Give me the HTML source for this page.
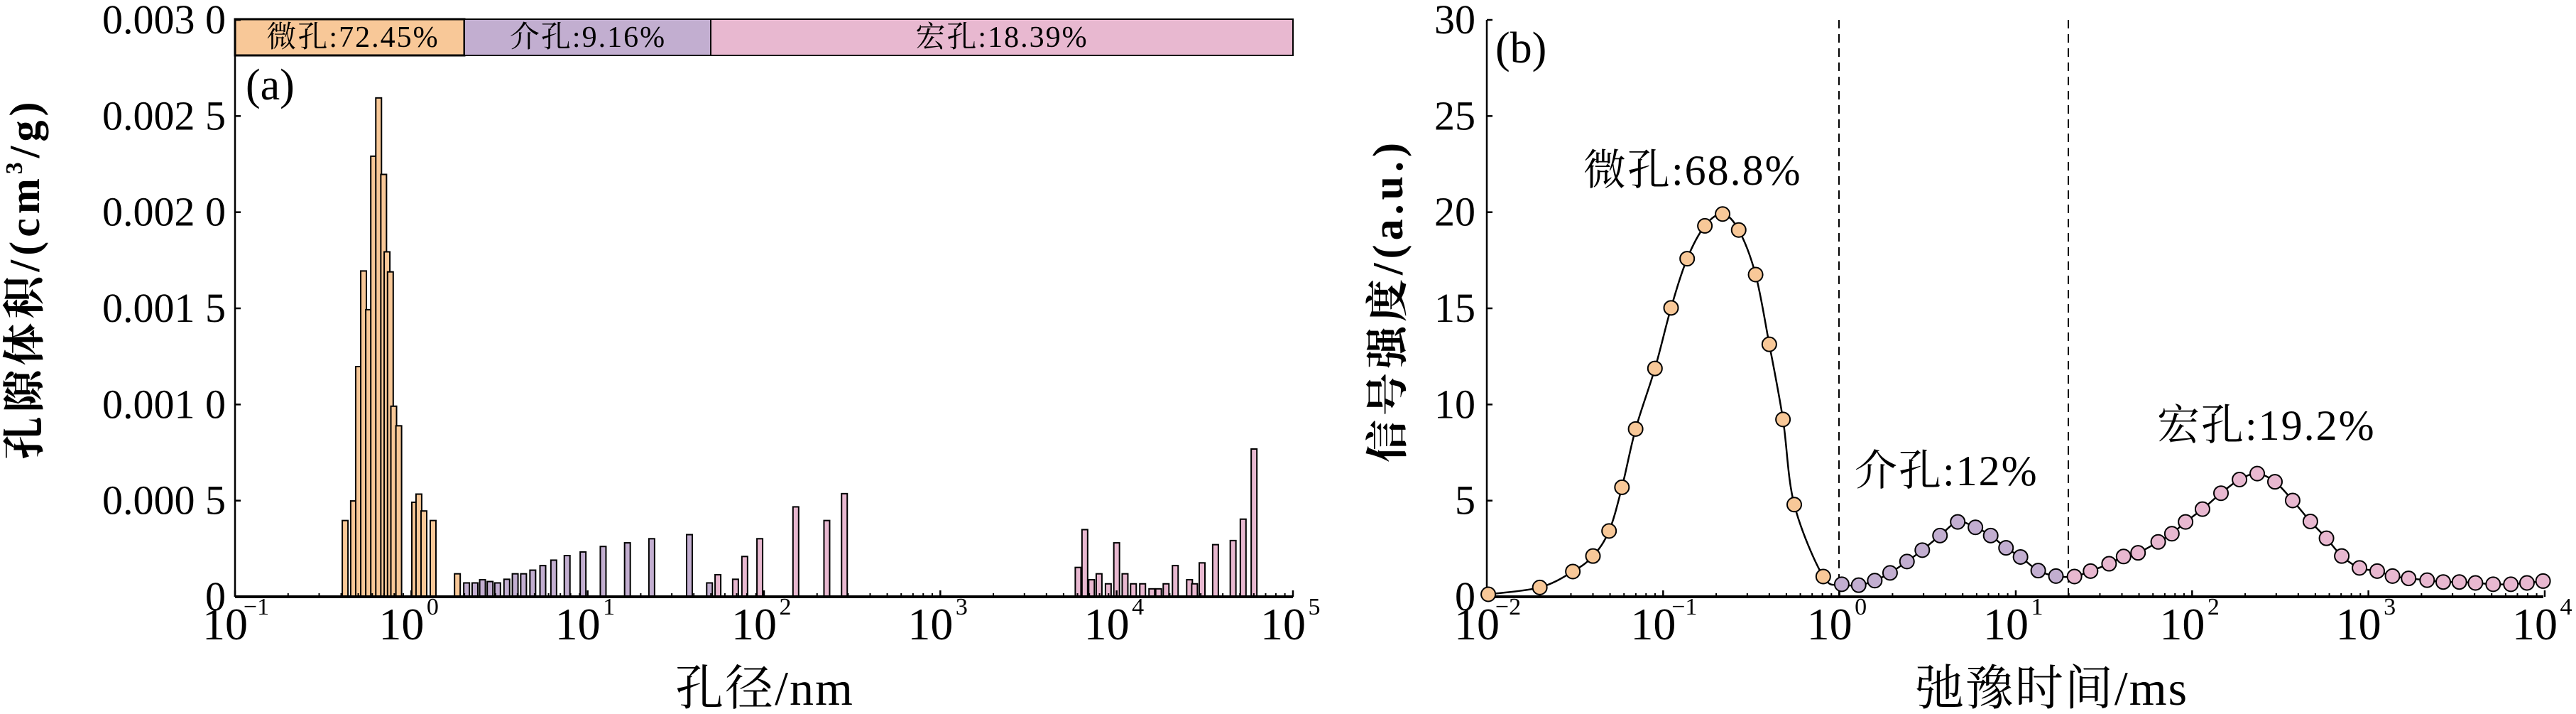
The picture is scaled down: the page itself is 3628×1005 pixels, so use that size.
<!DOCTYPE html>
<html><head><meta charset="utf-8">
<style>
html,body{margin:0;padding:0;background:#fff;}
svg{display:block;}
text{font-family:"Liberation Serif","Noto Serif CJK SC","Noto Sans CJK SC",serif;fill:#000;}
.cjk{font-family:"Liberation Serif","Noto Serif CJK SC",serif;}
</style></head>
<body>
<svg id="s" width="3628" height="1005" viewBox="0 0 3628 1005" xmlns="http://www.w3.org/2000/svg">
<rect x="331" y="27" width="323" height="51" fill="#F8C898" stroke="#000" stroke-width="3"/>
<rect x="654" y="27" width="347" height="51" fill="#C2AED0" stroke="#000" stroke-width="2"/>
<rect x="1001" y="27" width="820" height="51" fill="#E8B8D0" stroke="#000" stroke-width="2"/>
<text x="497" y="66" font-size="42" text-anchor="middle" class="cjk" letter-spacing="2">微孔:72.45%</text>
<text x="828" y="66" font-size="42" text-anchor="middle" class="cjk" letter-spacing="2">介孔:9.16%</text>
<text x="1411" y="66" font-size="42" text-anchor="middle" class="cjk" letter-spacing="2">宏孔:18.39%</text>
<text x="346" y="140" font-size="62">(a)</text>
<g id="ga"></g>
<g id="gb"></g>
<text transform="translate(55,392) rotate(-90)" font-size="60" font-weight="bold" text-anchor="middle" letter-spacing="6" class="cjk">孔隙体积/(cm<tspan font-size="34" dy="-24">3</tspan><tspan dy="24">/g)</tspan></text>
<text x="1077" y="992" font-size="68" text-anchor="middle" class="cjk" letter-spacing="2">孔径/nm</text>
<text transform="translate(1975,423) rotate(-90)" font-size="60" font-weight="bold" text-anchor="middle" letter-spacing="6" class="cjk">信号强度/(a.u.)</text>
<text x="2890" y="992" font-size="68" text-anchor="middle" class="cjk" letter-spacing="2">弛豫时间/ms</text>
<text x="2106" y="88" font-size="62">(b)</text>
<text x="2230" y="260" font-size="60" class="cjk" letter-spacing="2">微孔:68.8%</text>
<text x="2612" y="683" font-size="60" class="cjk" letter-spacing="2">介孔:12%</text>
<text x="3038" y="619" font-size="60" class="cjk" letter-spacing="2">宏孔:19.2%</text>
</svg>
<script>
var NS="http://www.w3.org/2000/svg";
function el(p,t,a,txt){var e=document.createElementNS(NS,t);for(var k in a)e.setAttribute(k,a[k]);if(txt!==undefined)e.textContent=txt;p.appendChild(e);return e;}
var ga=document.getElementById('ga');
var aL=331,aR=1821,aT=28,aZ=840,dec=248.33;
var bars=[
[412,1143,'o'],[422,1100,'o'],[428,805,'o'],[434,595,'o'],[440,680,'o'],[446,343,'o'],[452,215,'o'],[458,383,'o'],[462,553,'o'],[466,597,'o'],[470,892,'o'],[476,935,'o'],[495,1103,'o'],[500,1085,'o'],[506,1122,'o'],[517,1143,'o'],[546,1260,'o'],
[557,1280,'p'],[567,1280,'p'],[576,1273,'p'],[585,1277,'p'],[594,1280,'p'],[605,1272,'p'],[615,1260,'p'],[625,1260,'p'],[636,1252,'p'],[648,1242,'p'],[661,1230,'p'],[677,1220,'p'],[696,1212,'p'],[720,1200,'p'],[749,1192,'p'],[778,1183,'p'],[823,1174,'p'],[847,1280,'p'],
[857,1262,'k'],[878,1272,'k'],[889,1222,'k'],[907,1183,'k'],[950,1113,'k'],[987,1143,'k'],[1008,1084,'k'],[1287,1246,'k'],[1295,1163,'k'],[1303,1273,'k'],[1312,1260,'k'],[1323,1282,'k'],[1333,1192,'k'],[1343,1260,'k'],[1353,1282,'k'],[1364,1282,'k'],[1375,1293,'k'],[1383,1293,'k'],[1392,1282,'k'],[1403,1242,'k'],[1420,1273,'k'],[1426,1282,'k'],[1435,1236,'k'],[1451,1196,'k'],[1472,1187,'k'],[1484,1140,'k'],[1497,986,'k']];
var col={o:'#F8C898',p:'#C2AED0',k:'#E8B8D0'};
bars.forEach(function(b){var x=b[0]*1.1798, top=b[1]*0.641;
 el(ga,'rect',{x:x-4,y:top,width:8,height:aZ-top,fill:col[b[2]],stroke:'#000','stroke-width':2});});
el(ga,'line',{x1:aL,y1:aT,x2:aL,y2:aZ,stroke:'#000','stroke-width':2.5});
el(ga,'line',{x1:aL,y1:aZ,x2:aR,y2:aZ,stroke:'#000','stroke-width':4});
var ylab=['0','0.000 5','0.001 0','0.001 5','0.002 0','0.002 5','0.003 0'];
for(var i=0;i<=6;i++){var y=aZ-i*(aZ-aT)/6;
 el(ga,'line',{x1:aL,y1:y,x2:aL+8,y2:y,stroke:'#000','stroke-width':2.5});
 el(ga,'text',{x:318,y:y+19,'font-size':58,'text-anchor':'end'},ylab[i]);}
function xTicks(g,L,n,start,Z){
 for(var d=0;d<=n;d++){var x=L+d*dec;
  el(g,'line',{x1:x,y1:Z,x2:x,y2:Z-9,stroke:'#000','stroke-width':2.5});
  el(g,'text',{x:x-14,y:Z+60,'font-size':64,'text-anchor':'middle'},'10');
  var s=start+d; el(g,'text',{x:x+30,y:Z+25,'font-size':34,'text-anchor':'middle'},s<0?'\u2212'+(-s):String(s));
  if(d<n)for(var m=2;m<=9;m++){var xm=x+Math.log10(m)*dec;el(g,'line',{x1:xm,y1:Z,x2:xm,y2:Z-5,stroke:'#000','stroke-width':2});}
 }}
xTicks(ga,aL,6,-1,aZ);
var gb=document.getElementById('gb');
var bL=2094,bR=3582,bZ=840,bT=28;
el(gb,'line',{x1:2590,y1:bT,x2:2590,y2:bZ,stroke:'#000','stroke-width':2,'stroke-dasharray':'12,8'});
el(gb,'line',{x1:2913,y1:bT,x2:2913,y2:bZ,stroke:'#000','stroke-width':2,'stroke-dasharray':'12,8'});
el(gb,'line',{x1:bL,y1:bT,x2:bL,y2:bZ,stroke:'#000','stroke-width':2.5});
el(gb,'line',{x1:bL,y1:bZ,x2:bR,y2:bZ,stroke:'#000','stroke-width':4});
for(var i=0;i<=6;i++){var y=bZ-i*(bZ-bT)/6;
 el(gb,'line',{x1:bL,y1:y,x2:bL+8,y2:y,stroke:'#000','stroke-width':2.5});
 el(gb,'text',{x:2078,y:y+19,'font-size':58,'text-anchor':'end'},String(i*5));}
xTicks(gb,bL,6,-2,bZ);
var pts=[[217,1305],[281,1290],[322,1255],[347,1221],[367,1166],[383,1070],[400,942],[424,809],[444,676],[464,568],[486,496],[508,470],[528,505],[549,603],[566,756],[583,921],[597,1108],[633,1266],
[656,1283],[677,1285],[697,1275],[716,1258],[737,1233],[756,1208],[778,1176],[800,1146],[822,1158],[841,1176],[860,1203],[878,1223],[900,1253],[922,1265],
[945,1266],[965,1254],[988,1238],[1006,1222],[1024,1214],[1049,1190],[1066,1172],[1083,1146],[1104,1118],[1127,1083],[1150,1053],[1172,1040],[1194,1058],[1216,1099],[1238,1145],[1258,1182],[1277,1221],[1299,1247],[1321,1254],[1340,1265],[1360,1270],[1383,1274],[1403,1278],[1423,1278],[1443,1280],[1465,1283],[1487,1283],[1507,1280],[1527,1276]];
var P=pts.map(function(p){return [1850+p[0]*1.134,p[1]*0.641];});
var d='M'+P[0][0]+','+P[0][1];
for(var i=0;i<P.length-1;i++){var p0=P[i-1]||P[i],p1=P[i],p2=P[i+1],p3=P[i+2]||p2;
 d+=' C'+(p1[0]+(p2[0]-p0[0])/6)+','+(p1[1]+(p2[1]-p0[1])/6)+' '+(p2[0]-(p3[0]-p1[0])/6)+','+(p2[1]-(p3[1]-p1[1])/6)+' '+p2[0]+','+p2[1];}
el(gb,'path',{d:d,fill:'none',stroke:'#000','stroke-width':2.5});
P.forEach(function(p,i){var c=i<18?'#F8C898':(i<32?'#C2AED0':'#E8B8D0');
 el(gb,'ellipse',{cx:p[0],cy:p[1],rx:10,ry:10,fill:c,stroke:'#000','stroke-width':2});});
</script>
</body></html>
